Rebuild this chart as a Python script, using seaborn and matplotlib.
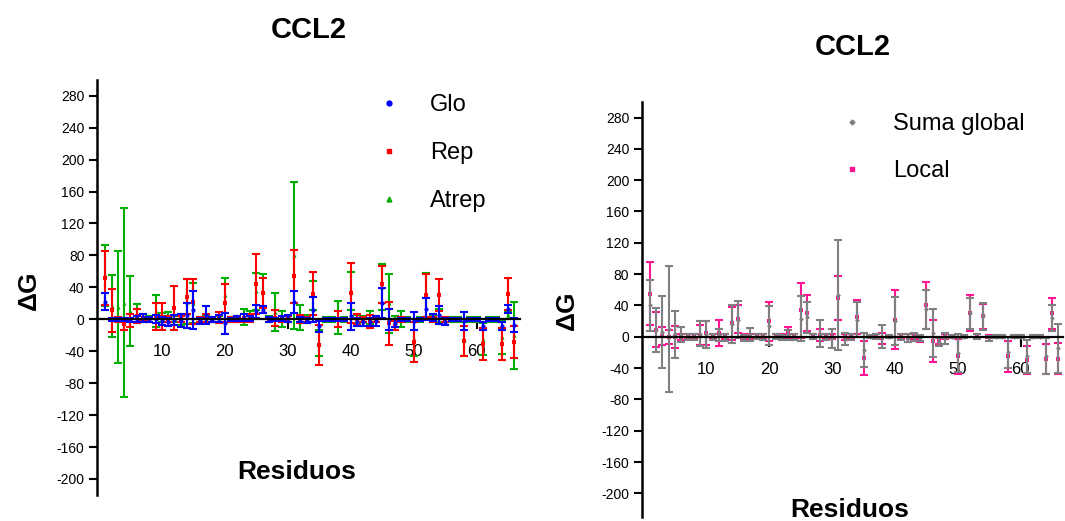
import seaborn as sns
import matplotlib.pyplot as plt
from matplotlib.lines import Line2D

residuos = list(range(1, 67))

# panel izquierdo
glo = [22, 0, 0, 0, -1, 0, 1, 0, 0, -2, -3, -1, -2, 5, 12, -2, 5, 0, 1, -5,
       0, 1, 2, 1, 10, 12, 0, 0, 1, 1, 22, 0, -2, 12, -9, 0, 0, 0, 0, 4,
       -3, -4, -4, -2, 20, 0, -5, 0, 0, -2, 0, 13, 2, 5, -3, 0, 0, -2, 0, 0,
       -9, 0, 0, -9, 13, -7]
glo_err = [11, 2, 2, 2, 3, 4, 5, 3, 5, 5, 5, 6, 8, 16, 24, 4, 11, 3, 4, 13,
           2, 3, 4, 3, 8, 4, 3, 2, 3, 4, 14, 3, 3, 16, 7, 2, 2, 2, 2, 17,
           5, 4, 5, 6, 19, 13, 5, 2, 2, 11, 2, 14, 4, 11, 4, 2, 2, 11, 2, 2,
           5, 2, 2, 5, 5, 9]

rep = [52, 11, 0, -6, -2, 4, 2, 0, 4, 3, 0, 14, 0, 28, 22, 0, 2, 0, 2, 20,
       0, 0, 1, 2, 44, 33, 0, 2, 0, 0, 54, 0, 0, 32, -32, 0, 0, 0, 0, 33,
       0, 0, -3, 0, 44, -5, -8, 0, 0, -29, 0, 30, 0, 30, 0, 0, 0, -27, 0, 0,
       -31, 0, 0, -31, 32, -29]
rep_err = [34, 27, 3, 8, 8, 9, 4, 3, 17, 17, 4, 28, 4, 22, 28, 3, 5, 3, 7, 24,
           3, 3, 5, 5, 38, 19, 3, 10, 4, 4, 33, 5, 3, 27, 25, 2, 2, 10, 2, 38,
           7, 3, 8, 3, 23, 27, 6, 3, 2, 25, 2, 27, 3, 20, 3, 2, 2, 19, 2, 2,
           20, 2, 2, 20, 20, 20]

atrep = [55, 17, 15, 21, 10, 7, 2, 0, 10, 2, 0, 0, 0, 22, 20, 0, 0, 0, 0, 30,
         0, 0, 3, 3, 35, 36, 0, 9, 0, 0, 80, 2, 0, 30, -30, 0, 0, 2, 0, 35,
         0, 0, 2, 0, 40, 20, -3, 0, 0, -25, 0, 30, 0, 5, 0, 0, 0, -25, 0, 0,
         -25, 0, 0, -22, 5, -20]
atrep_err = [38, 39, 70, 118, 44, 12, 5, 4, 20, 6, 9, 4, 7, 28, 25, 3, 4, 3, 4, 22,
             3, 4, 10, 7, 23, 21, 4, 24, 10, 4, 92, 16, 5, 18, 16, 3, 3, 21, 3, 24,
             5, 4, 8, 4, 29, 37, 7, 10, 3, 21, 3, 28, 4, 8, 3, 3, 3, 21, 3, 3,
             20, 3, 3, 21, 5, 42]

# panel derecho
suma = [40, 9, 6, 10, 3, 3, 0, 0, 4, 3, 0, 2, -1, 16, 22, -2, 3, 0, 0, 14,
        0, -1, 2, 0, 23, 25, 0, 4, 0, -2, 53, -3, 0, 22, -17, 0, 0, 0, 0, 20,
        0, -2, 0, -2, 35, 5, -7, -2, 0, -21, 0, 30, 0, 26, -2, 0, 0, -20, 0, 0,
        -25, 0, 0, -25, 24, -15]
suma_err = [33, 28, 46, 80, 30, 10, 4, 4, 16, 17, 4, 8, 5, 24, 24, 4, 8, 3, 4, 25,
            3, 3, 6, 4, 29, 20, 3, 17, 4, 12, 70, 8, 4, 22, 22, 2, 3, 15, 2, 31,
            4, 5, 5, 4, 25, 31, 5, 7, 2, 24, 2, 20, 3, 17, 3, 2, 2, 20, 2, 2,
            21, 2, 2, 23, 17, 31]

local = [55, 9, 1, 0, 0, 0, 0, 0, 2, 5, 0, 5, 0, 17, 23, 0, 0, 0, 0, 20,
         0, 0, 5, 0, 34, 30, 0, 2, 0, 0, 50, 0, 0, 25, -27, 0, 0, -2, 0, 22,
         0, -2, 0, -3, 40, -5, -5, 0, 0, -25, 0, 30, 0, 26, 0, 0, 0, -25, 0, 0,
         -30, 0, 0, -28, 30, -28]
local_err = [40, 22, 12, 9, 14, 4, 3, 3, 13, 15, 3, 17, 3, 21, 18, 3, 3, 3, 3, 25,
             3, 3, 7, 3, 35, 23, 3, 8, 3, 3, 28, 4, 3, 22, 22, 2, 3, 7, 2, 38,
             3, 5, 3, 4, 30, 27, 4, 3, 2, 22, 2, 23, 3, 16, 2, 2, 2, 20, 2, 2,
             18, 2, 2, 19, 20, 20]

yticks = list(range(-200, 281, 40))
xticks = [10, 20, 30, 40, 50, 60]

sns.set_theme(style='ticks')
plt.rcParams['font.family'] = ['Liberation Sans', 'DejaVu Sans']
plt.rcParams['axes.unicode_minus'] = False
plt.rcParams['text.color'] = 'black'
plt.rcParams['axes.labelcolor'] = 'black'
plt.rcParams['xtick.color'] = 'black'
plt.rcParams['ytick.color'] = 'black'

fig = plt.figure(figsize=(10.65, 5.21), dpi=100)
ax1 = fig.add_axes([0.0911, 0.050, 0.3967, 0.797])
ax2 = fig.add_axes([0.6025, 0.008, 0.396, 0.7965])


def serie(ax, y, err, color, marker, z, size):
    ax.errorbar(residuos, y, yerr=err, fmt='none', ecolor=color,
                elinewidth=1.5, capsize=3.2, capthick=1.5, zorder=z)
    sns.scatterplot(x=residuos, y=y, ax=ax, color=color, marker=marker,
                    s=size, edgecolor=None, linewidth=0, legend=False, zorder=z + 0.1)


def estilo(ax, ylim, title_pad, xlab_xy, ylab_xy):
    ax.set_xlim(-0.3, 66.8)
    ax.set_ylim(*ylim)
    ax.set_yticks(yticks)
    ax.set_xticks(xticks)
    ax.spines['top'].set_visible(False)
    ax.spines['right'].set_visible(False)
    ax.spines['bottom'].set_position(('data', 0))
    ax.spines['bottom'].set_linewidth(1.6)
    ax.spines['bottom'].set_color('black')
    ax.spines['left'].set_linewidth(1.8)
    ax.spines['left'].set_color('black')
    ax.tick_params(axis='x', direction='out', length=7, width=1.5, pad=11,
                   labelsize=12, color='black', labelcolor='black')
    ax.tick_params(axis='y', direction='out', length=6, width=1.5, pad=3,
                   labelsize=10, color='black', labelcolor='black')
    ax.set_title('CCL2', fontsize=21, fontweight='bold', pad=title_pad, color='black')
    ax.set_xlabel('Residuos', fontsize=19, fontweight='bold', color='black')
    ax.set_ylabel('ΔG', fontsize=19, fontweight='bold', color='black')
    ax.xaxis.set_label_coords(*xlab_xy)
    ax.yaxis.set_label_coords(*ylab_xy)
    ax.set_facecolor('white')


# izquierda
serie(ax1, atrep, atrep_err, '#00b000', '^', 2, 9)
serie(ax1, rep, rep_err, '#ff0000', 's', 2.2, 9)
serie(ax1, glo, glo_err, '#0000ff', 'o', 2.4, 9)
estilo(ax1, (-220, 300), 30, (0.473, 0.084), (-0.133, 0.494))

h1 = [Line2D([], [], ls='none', marker='o', color='#0000ff', markersize=3.5),
      Line2D([], [], ls='none', marker='s', color='#ff0000', markersize=3.5),
      Line2D([], [], ls='none', marker='^', color='#00b000', markersize=3.5)]
leg1 = ax1.legend(h1, ['Glo', 'Rep', 'Atrep'], loc='upper left', bbox_to_anchor=(0.663, 0.966),
                  frameon=False, fontsize=17, handlelength=1.0, handletextpad=1.24,
                  labelspacing=1.1, borderpad=0, borderaxespad=0)
for t in leg1.get_texts():
    t.set_color('black')

# derecha
serie(ax2, local, local_err, '#ff1493', 's', 2, 6)
serie(ax2, suma, suma_err, '#808080', 'D', 2.2, 6)
estilo(ax2, (-230, 300), 34, (0.493, 0.045), (-0.149, 0.498))

h2 = [Line2D([], [], ls='none', marker='D', color='#808080', markersize=2.5),
      Line2D([], [], ls='none', marker='s', color='#ff1493', markersize=3)]
leg2 = ax2.legend(h2, ['Suma global', 'Local'], loc='upper left', bbox_to_anchor=(0.4716, 0.973),
                  frameon=False, fontsize=17, handlelength=1.0, handletextpad=1.24,
                  labelspacing=1.05, borderpad=0, borderaxespad=0)
for t in leg2.get_texts():
    t.set_color('black')

fig.savefig('out.png', dpi=100, facecolor='white')
